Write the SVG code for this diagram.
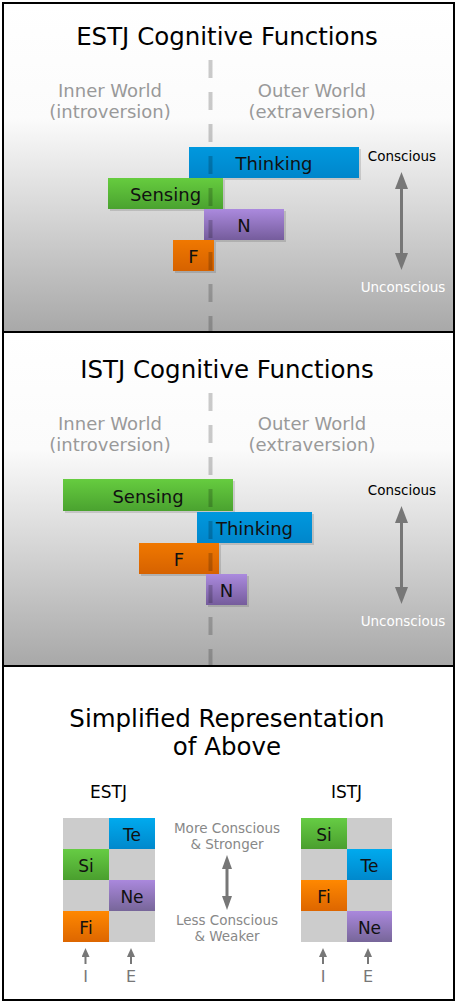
<svg xmlns="http://www.w3.org/2000/svg" width="456" height="1002" viewBox="0 0 456 1002">
<style>
text{font-family:"DejaVu Sans",Verdana,"Liberation Sans",sans-serif;text-anchor:middle}
.title{font-size:24.5px;fill:#000}
.world{font-size:18px;fill:#999}
.bar{font-size:18px;fill:#111}
.con{font-size:13.5px;fill:#000}
.uncon{font-size:13.5px;fill:#fff}
.mid{font-size:13.5px;fill:#888}
.lab{font-size:17px;fill:#000}
.cell{font-size:17px;fill:#111}
.ie{font-size:16px;fill:#777}
.shadow{fill:#000;opacity:0.13}
.dash{stroke:#000;stroke-opacity:0.2;stroke-width:4;stroke-dasharray:18 14;stroke-linecap:butt}
.arrow{stroke:#777;stroke-width:3;fill:none}
.sarrow{stroke:#777;stroke-width:2;fill:none}
.gray{fill:#cccccc}
</style>
<defs>
<linearGradient id="bg" x1="0" y1="0" x2="0" y2="1">
<stop offset="0" stop-color="#ffffff"/>
<stop offset="0.35" stop-color="#fbfbfb"/>
<stop offset="1" stop-color="#a8a8a8"/>
</linearGradient>
<linearGradient id="blue" x1="0" y1="0" x2="0" y2="1"><stop offset="0" stop-color="#0098de"/><stop offset="1" stop-color="#0086cb"/></linearGradient>
<linearGradient id="green" x1="0" y1="0" x2="0" y2="1"><stop offset="0" stop-color="#66cc3f"/><stop offset="1" stop-color="#4aa22f"/></linearGradient>
<linearGradient id="purple" x1="0" y1="0" x2="0" y2="1"><stop offset="0" stop-color="#ab8ade"/><stop offset="1" stop-color="#755c9c"/></linearGradient>
<linearGradient id="orange" x1="0" y1="0" x2="0" y2="1"><stop offset="0" stop-color="#f07800"/><stop offset="1" stop-color="#d66200"/></linearGradient>
<linearGradient id="blue2" x1="0" y1="0" x2="0" y2="1"><stop offset="0" stop-color="#00aaee"/><stop offset="1" stop-color="#0088cc"/></linearGradient>
<linearGradient id="green2" x1="0" y1="0" x2="0" y2="1"><stop offset="0" stop-color="#66cc44"/><stop offset="1" stop-color="#4a9f2e"/></linearGradient>
<linearGradient id="purple2" x1="0" y1="0" x2="0" y2="1"><stop offset="0" stop-color="#aa88dd"/><stop offset="1" stop-color="#776699"/></linearGradient>
<linearGradient id="orange2" x1="0" y1="0" x2="0" y2="1"><stop offset="0" stop-color="#ff8800"/><stop offset="1" stop-color="#dd6600"/></linearGradient>
<marker id="bigHead" markerUnits="userSpaceOnUse" markerWidth="17" markerHeight="13" refX="0" refY="6.5" orient="auto-start-reverse"><path d="M0,0 L17,6.5 L0,13 z" fill="#777"/></marker>
<marker id="midHead" markerUnits="userSpaceOnUse" markerWidth="14" markerHeight="10" refX="0" refY="5" orient="auto-start-reverse"><path d="M0,0 L14,5 L0,10 z" fill="#777"/></marker>
<marker id="smallHead" markerUnits="userSpaceOnUse" markerWidth="9" markerHeight="8" refX="0" refY="4" orient="auto-start-reverse"><path d="M0,0 L9,4 L0,8 z" fill="#777"/></marker>
</defs>

<!-- backgrounds -->
<rect x="3" y="3" width="451" height="329" fill="url(#bg)"/>
<rect x="3" y="332" width="451" height="334" fill="url(#bg)"/>
<rect x="3" y="666" width="451" height="334" fill="#ffffff"/>

<!-- Panel 1: ESTJ -->
<g id="estj-panel">
<text class="title" x="227" y="45">ESTJ Cognitive Functions</text>
<text class="world" x="110" y="97">Inner World</text>
<text class="world" x="110" y="118">(introversion)</text>
<text class="world" x="312" y="97">Outer World</text>
<text class="world" x="312" y="118">(extraversion)</text>
<text class="con" x="402" y="161">Conscious</text>
<text class="uncon" x="403" y="292">Unconscious</text>
</g>
<g id="estj-thinking">
<rect class="shadow" x="191" y="149" width="170" height="31"/>
<rect x="189" y="147" width="170" height="31" fill="url(#blue)"/>
<text class="bar" x="274" y="170">Thinking</text>
</g>
<g id="estj-sensing">
<rect class="shadow" x="110" y="180" width="115" height="31"/>
<rect x="108" y="178" width="115" height="31" fill="url(#green)"/>
<text class="bar" x="165.5" y="201">Sensing</text>
</g>
<g id="estj-n">
<rect class="shadow" x="206" y="211" width="80" height="31"/>
<rect x="204" y="209" width="80" height="31" fill="url(#purple)"/>
<text class="bar" x="244" y="232">N</text>
</g>
<g id="estj-f">
<rect class="shadow" x="175" y="242" width="41" height="31"/>
<rect x="173" y="240" width="41" height="31" fill="url(#orange)"/>
<text class="bar" x="193.5" y="263">F</text>
</g>

<!-- Panel 2: ISTJ -->
<g id="istj-panel">
<text class="title" x="227" y="378">ISTJ Cognitive Functions</text>
<text class="world" x="110" y="430">Inner World</text>
<text class="world" x="110" y="451">(introversion)</text>
<text class="world" x="312" y="430">Outer World</text>
<text class="world" x="312" y="451">(extraversion)</text>
<text class="con" x="402" y="495">Conscious</text>
<text class="uncon" x="403" y="626">Unconscious</text>
</g>
<g id="istj-sensing">
<rect class="shadow" x="65" y="481" width="170" height="32"/>
<rect x="63" y="479" width="170" height="32" fill="url(#green)"/>
<text class="bar" x="148" y="503">Sensing</text>
</g>
<g id="istj-thinking">
<rect class="shadow" x="199" y="514" width="115" height="31"/>
<rect x="197" y="512" width="115" height="31" fill="url(#blue)"/>
<text class="bar" x="254.5" y="535">Thinking</text>
</g>
<g id="istj-f">
<rect class="shadow" x="141" y="545" width="80" height="31"/>
<rect x="139" y="543" width="80" height="31" fill="url(#orange)"/>
<text class="bar" x="179" y="566">F</text>
</g>
<g id="istj-n">
<rect class="shadow" x="208" y="576" width="41" height="31"/>
<rect x="206" y="574" width="41" height="31" fill="url(#purple)"/>
<text class="bar" x="226.5" y="597">N</text>
</g>

<!-- Panel 3 -->
<g id="simplified-title">
<text class="title" x="227" y="727">Simplified Representation</text>
<text class="title" x="227" y="755">of Above</text>
</g>
<g id="estj-grid">
<text class="lab" x="108.5" y="798">ESTJ</text>
<rect class="gray" x="63" y="818" width="92" height="124"/>
<rect x="109" y="818" width="46" height="31" fill="url(#blue2)"/>
<text class="cell" x="132" y="841">Te</text>
<rect x="63" y="849" width="46" height="31" fill="url(#green2)"/>
<text class="cell" x="86" y="872">Si</text>
<rect x="109" y="880" width="46" height="31" fill="url(#purple2)"/>
<text class="cell" x="132" y="903">Ne</text>
<rect x="63" y="911" width="46" height="31" fill="url(#orange2)"/>
<text class="cell" x="86" y="934">Fi</text>
<text class="ie" x="85.5" y="982">I</text>
<text class="ie" x="131" y="982">E</text>
</g>
<g id="istj-grid">
<text class="lab" x="346.5" y="798">ISTJ</text>
<rect class="gray" x="301" y="818" width="91" height="124"/>
<rect x="301" y="818" width="46" height="31" fill="url(#green2)"/>
<text class="cell" x="324" y="841">Si</text>
<rect x="347" y="849" width="45" height="31" fill="url(#blue2)"/>
<text class="cell" x="369.5" y="872">Te</text>
<rect x="301" y="880" width="46" height="31" fill="url(#orange2)"/>
<text class="cell" x="324" y="903">Fi</text>
<rect x="347" y="911" width="45" height="31" fill="url(#purple2)"/>
<text class="cell" x="369.5" y="934">Ne</text>
<text class="ie" x="323" y="982">I</text>
<text class="ie" x="368" y="982">E</text>
</g>
<g id="strength-legend">
<text class="mid" x="227" y="833">More Conscious</text>
<text class="mid" x="227" y="849">&amp; Stronger</text>
<text class="mid" x="227" y="925">Less Conscious</text>
<text class="mid" x="227" y="941">&amp; Weaker</text>
</g>

<!-- connectors -->
<g id="connectors">
<line class="dash" x1="210.5" y1="60" x2="210.5" y2="331"/>
<line class="dash" x1="210.5" y1="393" x2="210.5" y2="665"/>
<line class="arrow" x1="401.5" y1="189" x2="401.5" y2="253" marker-start="url(#bigHead)" marker-end="url(#bigHead)"/>
<line class="arrow" x1="401.5" y1="523" x2="401.5" y2="587" marker-start="url(#bigHead)" marker-end="url(#bigHead)"/>
<line class="arrow" x1="227" y1="869" x2="227" y2="896" marker-start="url(#midHead)" marker-end="url(#midHead)"/>
<line class="sarrow" x1="85.5" y1="964" x2="85.5" y2="957" marker-end="url(#smallHead)"/>
<line class="sarrow" x1="131" y1="964" x2="131" y2="957" marker-end="url(#smallHead)"/>
<line class="sarrow" x1="323" y1="964" x2="323" y2="957" marker-end="url(#smallHead)"/>
<line class="sarrow" x1="368" y1="964" x2="368" y2="957" marker-end="url(#smallHead)"/>
</g>

<!-- frame -->
<g id="frame" fill="none" stroke="#000" stroke-width="2">
<rect x="3" y="3" width="451" height="997"/>
<line x1="3" y1="332" x2="454" y2="332"/>
<line x1="3" y1="666" x2="454" y2="666"/>
</g>
</svg>
